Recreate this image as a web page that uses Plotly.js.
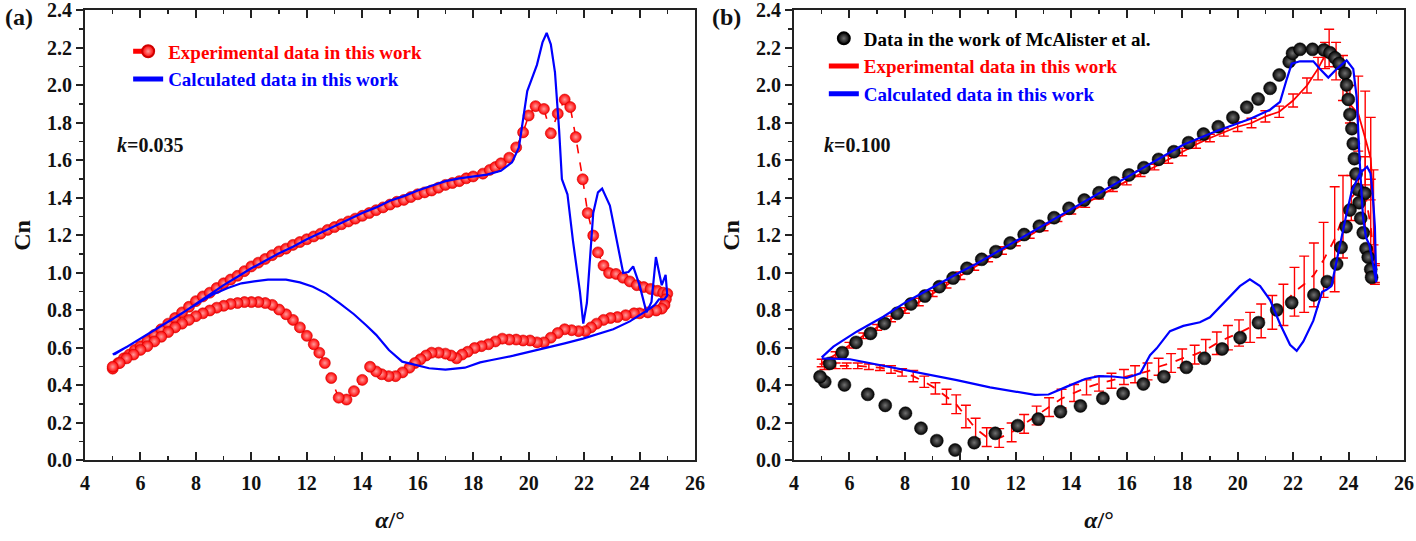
<!DOCTYPE html>
<html><head><meta charset="utf-8">
<script src="https://cdn.plot.ly/plotly-3.0.1.min.js"></script>
<style>html,body{margin:0;padding:0;background:#fff}#chart{width:1416px;height:541px}</style>
</head><body><div id="chart"></div>
<script>
// ---------- Panel (a), k = 0.035 ----------
const expA_alpha = [5.0,5.2,5.4,5.6,5.8,6.0,6.25,6.5,6.75,7.0,7.25,7.5,7.75,8.0,8.25,8.5,8.75,9.0,9.25,9.5,9.75,10.0,10.25,10.5,10.75,11.0,11.25,11.5,11.75,12.0,12.25,12.5,12.75,13.0,13.25,13.5,13.75,14.0,14.25,14.5,14.75,15.0,15.25,15.5,15.75,16.0,16.25,16.5,16.75,17.0,17.25,17.5,17.75,18.0,18.35,18.6,18.8,19.0,19.3,19.55,19.8,20.0,20.25,20.55,20.8,21.05,21.3,21.5,21.7,21.95,22.13,22.33,22.5,22.7,22.9,23.15,23.4,23.65,23.9,24.15,24.4,24.65,24.85,25.0,
  24.95,24.9,24.8,24.6,24.3,24.0,23.8,23.5,23.2,22.95,22.7,22.45,22.25,22.05,21.8,21.55,21.3,21.05,20.8,20.55,20.3,20.05,19.8,19.55,19.3,19.05,18.8,18.55,18.3,18.05,17.8,17.6,17.4,17.2,17.0,16.75,16.5,16.3,16.1,15.9,15.7,15.45,15.2,14.95,14.7,14.5,14.28,14.0,13.7,13.43,13.15,12.88,12.65,12.45,12.25,12.0,11.75,11.5,11.25,11.0,10.75,10.5,10.25,10.0,9.75,9.5,9.25,9.0,8.75,8.5,8.25,8.0,7.75,7.5,7.25,7.0,6.75,6.5,6.25,6.0,5.75,5.5,5.25,5.0];
const expA_cn = [0.49,0.52,0.545,0.565,0.59,0.61,0.64,0.67,0.70,0.73,0.76,0.79,0.82,0.85,0.875,0.895,0.92,0.945,0.965,0.985,1.01,1.035,1.055,1.075,1.095,1.115,1.13,1.15,1.165,1.18,1.195,1.21,1.23,1.245,1.26,1.275,1.29,1.305,1.32,1.335,1.35,1.365,1.38,1.39,1.405,1.42,1.43,1.44,1.455,1.47,1.48,1.49,1.505,1.515,1.53,1.55,1.565,1.585,1.615,1.67,1.75,1.84,1.89,1.875,1.745,1.85,1.925,1.885,1.725,1.50,1.32,1.20,1.11,1.04,1.00,0.995,0.975,0.955,0.935,0.925,0.915,0.905,0.895,0.89,
  0.86,0.83,0.81,0.80,0.79,0.785,0.785,0.775,0.765,0.76,0.75,0.73,0.71,0.69,0.69,0.695,0.70,0.68,0.655,0.63,0.63,0.64,0.64,0.645,0.645,0.65,0.635,0.62,0.61,0.60,0.58,0.565,0.545,0.56,0.57,0.575,0.575,0.56,0.54,0.52,0.495,0.47,0.45,0.45,0.46,0.475,0.50,0.43,0.37,0.325,0.335,0.44,0.52,0.575,0.62,0.665,0.71,0.75,0.78,0.805,0.83,0.84,0.845,0.845,0.845,0.84,0.835,0.825,0.815,0.80,0.785,0.77,0.75,0.73,0.71,0.685,0.66,0.635,0.61,0.59,0.565,0.545,0.52,0.50];

const calcA_alpha = [5.0,5.5,6.0,6.5,7.0,7.5,8.0,8.5,9.0,9.5,10.0,10.5,11.0,11.5,12.0,12.5,13.0,13.5,14.0,14.5,15.0,15.5,16.0,16.5,17.0,17.5,18.0,18.5,19.0,19.4,19.65,19.8,19.95,20.1,20.3,20.5,20.65,20.8,20.95,21.1,21.2,21.4,21.6,21.85,21.97,22.1,22.33,22.5,22.65,22.93,23.23,23.41,23.6,23.77,24.0,24.25,24.43,24.59,24.8,24.94,25.0,
  24.9,24.7,24.55,24.37,24.0,23.65,23.05,22.5,21.96,21.3,20.65,20.0,19.45,18.67,18.25,17.7,17.0,16.41,15.9,15.44,14.96,14.5,14.15,13.7,13.19,12.7,12.22,11.75,11.25,10.6,10.1,9.64,9.15,8.67,8.2,7.71,7.15,6.58,6.15,5.77,5.4,5.05];
const calcA_cn = [0.565,0.605,0.65,0.695,0.74,0.785,0.835,0.885,0.935,0.98,1.025,1.065,1.105,1.14,1.18,1.215,1.25,1.285,1.32,1.35,1.385,1.41,1.44,1.465,1.49,1.505,1.515,1.525,1.545,1.59,1.67,1.83,1.97,2.03,2.11,2.23,2.28,2.22,2.07,1.76,1.50,1.42,1.17,0.90,0.73,0.84,1.32,1.43,1.45,1.36,1.14,1.00,1.005,1.035,0.935,0.79,0.845,1.085,0.935,0.99,0.88,
  0.86,0.86,0.83,0.81,0.775,0.742,0.70,0.675,0.65,0.625,0.601,0.58,0.559,0.536,0.523,0.495,0.485,0.492,0.51,0.527,0.589,0.67,0.72,0.78,0.838,0.89,0.927,0.95,0.965,0.965,0.955,0.945,0.92,0.89,0.85,0.805,0.755,0.705,0.665,0.63,0.595,0.565];

// ---------- Panel (b), k = 0.100 ----------
const mcB_alpha = [5.29,5.74,6.24,6.76,7.26,7.72,8.22,8.72,9.24,9.74,10.24,10.77,11.28,11.8,12.3,12.85,13.38,13.92,14.47,15.0,15.55,16.08,16.62,17.15,17.7,18.23,18.77,19.3,19.83,20.33,20.74,21.17,21.5,21.86,21.98,22.25,22.7,23.11,23.33,23.51,23.66,23.87,23.93,23.99,24.05,24.12,24.17,24.21,24.27,24.33,
  24.59,24.38,24.44,24.53,24.63,24.71,24.8,24.83,
  24.05,23.91,23.73,23.57,23.23,22.75,21.95,21.41,20.75,20.09,19.44,18.8,18.15,17.34,16.6,15.87,15.14,14.33,13.61,12.81,12.07,11.26,10.5,9.81,9.15,8.58,8.02,7.29,6.66,5.82,5.11,4.94];
const mcB_cn = [0.518,0.575,0.63,0.678,0.731,0.785,0.835,0.877,0.927,0.973,1.025,1.073,1.114,1.16,1.205,1.25,1.295,1.345,1.389,1.428,1.482,1.523,1.562,1.606,1.647,1.695,1.741,1.78,1.83,1.884,1.928,1.985,2.056,2.127,2.172,2.193,2.193,2.19,2.175,2.148,2.118,2.065,2.003,1.926,1.846,1.77,1.69,1.61,1.528,1.446,
  1.425,1.375,1.292,1.215,1.13,1.084,1.02,0.977,
  1.336,1.247,1.137,1.048,0.954,0.883,0.842,0.803,0.735,0.655,0.595,0.545,0.497,0.447,0.408,0.358,0.332,0.291,0.26,0.221,0.186,0.145,0.095,0.056,0.106,0.172,0.252,0.294,0.353,0.403,0.42,0.447];

const expBup_alpha = [5.0,5.5,6.0,6.5,7.0,7.5,8.0,8.5,9.0,9.5,10.0,10.5,11.0,11.5,12.0,12.5,13.0,13.5,14.0,14.5,15.0,15.5,16.0,16.5,17.0,17.5,18.0,18.5,19.0,19.5,20.0,20.5,21.0,21.5,22.0,22.5,22.9,23.15,23.3,23.55,23.8,24.05,24.35,24.6,24.8,24.9,24.95];
const expBup_cn = [0.52,0.565,0.615,0.665,0.71,0.755,0.80,0.845,0.89,0.935,0.985,1.03,1.075,1.12,1.16,1.20,1.245,1.29,1.33,1.37,1.41,1.45,1.49,1.53,1.565,1.605,1.645,1.685,1.72,1.75,1.78,1.80,1.835,1.86,1.92,2.0,2.09,2.16,2.2,2.13,2.04,1.90,1.85,1.72,1.61,1.35,0.99];
const expBup_err = [0.02,0.015,0.015,0.015,0.015,0.015,0.015,0.02,0.015,0.015,0.02,0.015,0.015,0.02,0.015,0.015,0.02,0.015,0.015,0.02,0.015,0.015,0.02,0.015,0.015,0.02,0.02,0.02,0.02,0.02,0.025,0.025,0.03,0.03,0.035,0.04,0.06,0.07,0.1,0.1,0.12,0.1,0.2,0.25,0.22,0.2,0.05];

const expBdn_alpha = [24.95,24.8,24.6,24.35,24.1,23.8,23.5,23.1,22.75,22.4,22.05,21.65,21.25,20.85,20.45,20.05,19.65,19.25,18.85,18.45,18.0,17.6,17.15,16.75,16.3,15.9,15.45,15.0,14.55,14.1,13.65,13.2,12.75,12.3,11.85,11.4,10.95,10.55,10.2,9.85,9.5,9.1,8.7,8.3,7.9,7.5,7.1,6.7,6.3,5.9,5.5,5.1];
const expBdn_cn = [1.0,1.25,1.42,1.45,1.40,1.30,1.18,1.07,0.99,0.94,0.90,0.83,0.79,0.745,0.71,0.68,0.655,0.625,0.59,0.565,0.545,0.52,0.50,0.475,0.46,0.445,0.425,0.41,0.39,0.36,0.33,0.285,0.24,0.195,0.15,0.12,0.125,0.17,0.235,0.30,0.34,0.385,0.42,0.45,0.47,0.485,0.495,0.50,0.505,0.505,0.505,0.50];
const expBdn_err = [0.05,0.25,0.2,0.1,0.12,0.22,0.28,0.2,0.17,0.15,0.13,0.11,0.09,0.09,0.08,0.07,0.065,0.06,0.055,0.05,0.05,0.05,0.045,0.045,0.045,0.04,0.04,0.04,0.04,0.045,0.05,0.05,0.05,0.05,0.05,0.05,0.05,0.055,0.06,0.05,0.04,0.03,0.03,0.03,0.02,0.02,0.015,0.015,0.015,0.015,0.015,0.015];

const calcB_alpha = [5.0,5.42,6.26,7.22,8.06,9.0,10.0,10.53,11.0,12.0,13.0,14.0,15.0,16.0,17.0,18.04,19.24,20.44,21.17,21.53,21.77,21.95,22.25,22.73,22.97,23.27,23.57,23.93,24.17,24.29,24.4,24.52,24.63,24.75,24.88,25.0,
  24.95,24.87,24.79,24.67,24.41,24.11,23.93,23.69,23.51,23.38,23.2,23.05,22.73,22.37,22.13,21.89,21.53,21.17,20.81,20.44,20.08,19.6,19.0,18.64,18.04,17.56,17.08,16.84,16.49,16.0,15.5,15.0,14.5,13.84,13.18,12.69,11.73,11.07,9.87,8.66,7.46,6.02,5.0];
const calcB_cn = [0.55,0.607,0.687,0.767,0.847,0.925,1.005,1.045,1.085,1.17,1.255,1.34,1.425,1.51,1.595,1.684,1.757,1.821,1.871,1.913,2.033,2.116,2.129,2.129,2.088,2.042,2.088,2.134,2.088,1.941,1.60,1.30,1.19,1.15,1.05,0.95,
  1.247,1.425,1.532,1.567,1.532,1.434,1.318,1.14,1.016,0.93,0.91,0.90,0.746,0.635,0.585,0.617,0.728,0.856,0.93,0.966,0.93,0.856,0.764,0.737,0.718,0.69,0.598,0.562,0.465,0.44,0.448,0.45,0.435,0.394,0.352,0.35,0.372,0.39,0.429,0.465,0.50,0.54,0.545];

const xTickVals = [4,6,8,10,12,14,16,18,20,22,24,26];
const yTickVals = [0.0,0.2,0.4,0.6,0.8,1.0,1.2,1.4,1.6,1.8,2.0,2.2,2.4];

const SERIF = '"Liberation Serif", "Times New Roman", serif';
const RED = '#ff0000', BLUE = '#0000ff';

const traces = [
  {x: expA_alpha, y: expA_cn, xaxis:'x', yaxis:'y', legend:'legend', mode:'lines+markers',
   name:'<span style="color:#ff0000"><b>Experimental data in this work</b></span>',
   line:{color:RED, width:1.6, dash:'dash'},
   marker:{symbol:'circle', size:11, color:'#ff0000', gradient:{type:'radial', color:'#ff9a9a'}, line:{color:'#d00000', width:0.6}}},
  {x: calcA_alpha, y: calcA_cn, xaxis:'x', yaxis:'y', legend:'legend', mode:'lines',
   name:'<span style="color:#0000ff"><b>Calculated data in this work</b></span>',
   line:{color:BLUE, width:2.2}},
  {x: expBup_alpha, y: expBup_cn, xaxis:'x2', yaxis:'y2', legend:'legend2', legendrank:2, mode:'lines',
   name:'<span style="color:#ff0000"><b>Experimental data in this work</b></span>',
   line:{color:RED, width:1.8},
   error_y:{type:'data', array:expBup_err, visible:true, color:RED, thickness:1.4, width:5}},
  {x: expBdn_alpha, y: expBdn_cn, xaxis:'x2', yaxis:'y2', legend:'legend2', showlegend:false, mode:'lines',
   name:'Experimental data in this work (downstroke)',
   line:{color:RED, width:1.8, dash:'dash'},
   error_y:{type:'data', array:expBdn_err, visible:true, color:RED, thickness:1.4, width:5}},
  {x: mcB_alpha, y: mcB_cn, xaxis:'x2', yaxis:'y2', legend:'legend2', legendrank:1, mode:'markers',
   name:'<span style="color:#000000"><b>Data in the work of McAlister et al.</b></span>',
   marker:{symbol:'circle', size:13, color:'#000000', gradient:{type:'radial', color:'#707070'}, line:{color:'#000', width:0.5}}},
  {x: calcB_alpha, y: calcB_cn, xaxis:'x2', yaxis:'y2', legend:'legend2', legendrank:3, mode:'lines',
   name:'<span style="color:#0000ff"><b>Calculated data in this work</b></span>',
   line:{color:BLUE, width:2.2}}
];

const tickFont = {family: SERIF, size: 20, color:'#111', weight:'bold'};
const titleFont = {family: SERIF, size: 24, color:'#111'};

function xAxis(domain, anchor) {
  return {domain: domain, anchor: anchor, range:[4,26], tickvals: xTickVals, ticktext: xTickVals.map(v => '<b>' + v + '</b>'),
    ticks:'inside', ticklen:8, tickwidth:2, tickcolor:'#222', showline:true, linewidth:2, linecolor:'#222', mirror:'ticks',
    minor:{dtick:1, tick0:4, ticks:'inside', ticklen:4, tickwidth:1.5, tickcolor:'#222'},
    showgrid:false, zeroline:false, tickfont: tickFont, ticklabelstandoff: 4, ticklabeloverflow:'allow',
    title:{text:'<b><i>α</i>/°</b>', font: titleFont, standoff: 18}};
}
function yAxis(domain, anchor) {
  return {domain: domain, anchor: anchor, range:[0,2.4], tickvals: yTickVals, ticktext: yTickVals.map(v => '<b>' + v.toFixed(1) + '</b>'),
    ticks:'outside', ticklen:7, tickwidth:2, tickcolor:'#222', showline:true, linewidth:2, linecolor:'#222', mirror:true,
    minor:{dtick:0.1, tick0:0, ticks:'outside', ticklen:4, tickwidth:1.5, tickcolor:'#222'},
    showgrid:false, zeroline:false, tickfont: tickFont, ticklabeloverflow:'allow',
    title:{text:'<b>Cn</b>', font: titleFont, standoff: 10}};
}
function yRight(over, anchor) {
  return {overlaying: over, anchor: anchor, side:'right', range:[0,2.4], tickvals: yTickVals,
    ticks:'inside', ticklen:7, tickwidth:2, tickcolor:'#222', showline:false, showticklabels:false,
    minor:{dtick:0.1, tick0:0, ticks:'inside', ticklen:4, tickwidth:1.5, tickcolor:'#222'},
    showgrid:false, zeroline:false};
}

const yDom = [0.1488, 0.9806];
const annFont = {family:SERIF, size:24, color:'#111'};
const kFont = {family:SERIF, size:20, color:'#111'};
const layout = {
  width:1416, height:541, margin:{l:0, r:0, t:0, b:0},
  paper_bgcolor:'#ffffff', plot_bgcolor:'#ffffff',
  font:{family: SERIF, color:'#111'},
  xaxis: xAxis([0.06003, 0.49082], 'y'),
  yaxis: yAxis(yDom, 'x'),
  xaxis2: xAxis([0.56073, 0.99153], 'y2'),
  yaxis2: yAxis(yDom, 'x2'),
  yaxis3: yRight('y', 'x'),
  yaxis4: yRight('y2', 'x2'),
  legend: {x: 0.0905, y: 0.94, xanchor:'left', yanchor:'top', bgcolor:'rgba(0,0,0,0)', borderwidth:0,
    font:{family: SERIF, size: 19}, tracegroupgap:0, itemsizing:'constant'},
  legend2: {x: 0.5818, y: 0.964, xanchor:'left', yanchor:'top', bgcolor:'rgba(0,0,0,0)', borderwidth:0,
    font:{family: SERIF, size: 19}, tracegroupgap:0, itemsizing:'constant', traceorder:'normal'},
  showlegend:true,
  annotations:[
    {text:'<b>(a)</b>', xref:'paper', yref:'paper', x:0.0134, y:0.9686, xanchor:'center', yanchor:'middle', showarrow:false, font:annFont},
    {text:'<b>(b)</b>', xref:'paper', yref:'paper', x:0.5130, y:0.9686, xanchor:'center', yanchor:'middle', showarrow:false, font:annFont},
    {text:'<b><i>k</i>=0.035</b>', xref:'paper', yref:'paper', x:0.1059, y:0.732, xanchor:'center', yanchor:'middle', showarrow:false, font:kFont},
    {text:'<b><i>k</i>=0.100</b>', xref:'paper', yref:'paper', x:0.6052, y:0.732, xanchor:'center', yanchor:'middle', showarrow:false, font:kFont}
  ]
};

Plotly.newPlot('chart', traces, layout, {displayModeBar:false, staticPlot:true});
</script></body></html>
